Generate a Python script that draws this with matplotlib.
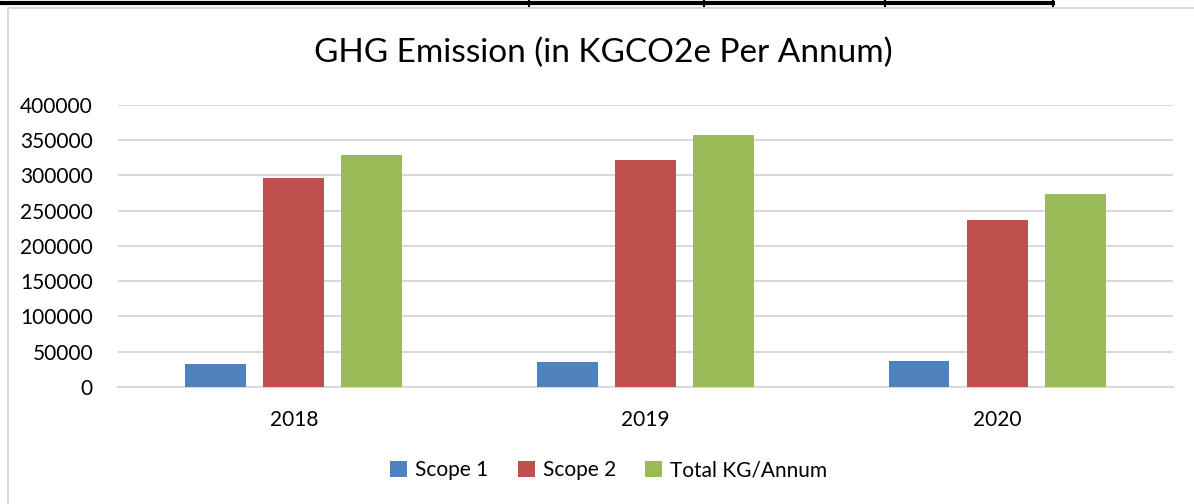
import matplotlib.pyplot as plt
import numpy as np
from matplotlib.patches import Rectangle
from matplotlib.lines import Line2D

plt.rcParams['font.family'] = ['Lato', 'DejaVu Sans']

years = ['2018', '2019', '2020']
scope1 = [32000, 35000, 36000]
scope2 = [296000, 322000, 237000]
total = [329500, 358000, 273500]
series_names = ['Scope 1', 'Scope 2', 'Total KG/Annum']
colors = ['#4F81BD', '#C0504D', '#9BBB59']

fig = plt.figure(figsize=(11.94, 5.04), dpi=100)

# table border on top and grey chart frame
fig.add_artist(Line2D([0.002, 0.882], [0.9935, 0.9935], color='black', lw=3))
for xv in [0.443, 0.590, 0.741, 0.882]:
    fig.add_artist(Line2D([xv, xv], [0.988, 1.0], color='black', lw=1.5))
fig.add_artist(Rectangle((0.0065, -0.01), 1.0, 0.995, fill=False, edgecolor='#d9d9d9', lw=1.5))

ax = fig.add_axes([0.0988, 0.2327, 0.8836, 0.559])
x = np.arange(len(years))
w = 0.173
step = 0.222
for i, (vals, name, c) in enumerate(zip([scope1, scope2, total], series_names, colors)):
    ax.bar(x + (i - 1) * step, vals, w, color=c, label=name, zorder=3)

ax.set_xlim(-0.5, 2.5)
ax.set_ylim(0, 400000)
ax.set_yticks(np.arange(0, 400001, 50000))
ax.set_xticks(x)
ax.set_xticklabels(years)
ax.grid(axis='y', color='#d9d9d9', lw=1.5, zorder=0)
for s in ['top', 'right', 'left']:
    ax.spines[s].set_visible(False)
ax.spines['bottom'].set_color('#d9d9d9')
ax.spines['bottom'].set_linewidth(1.5)
ax.tick_params(length=0, labelsize=15, colors='black')
ax.tick_params(axis='y', pad=18)
ax.tick_params(axis='x', pad=17)

fig.text(0.505, 0.895, 'GHG Emission (in KGCO2e Per Annum)', ha='center', va='center', fontsize=24)

fig.legend(loc='center', bbox_to_anchor=(0.51, 0.067), ncol=3, frameon=False, fontsize=15,
           handlelength=0.8, handleheight=0.8, handletextpad=0.4, columnspacing=1.4)

fig.savefig('out.png', dpi=100)
